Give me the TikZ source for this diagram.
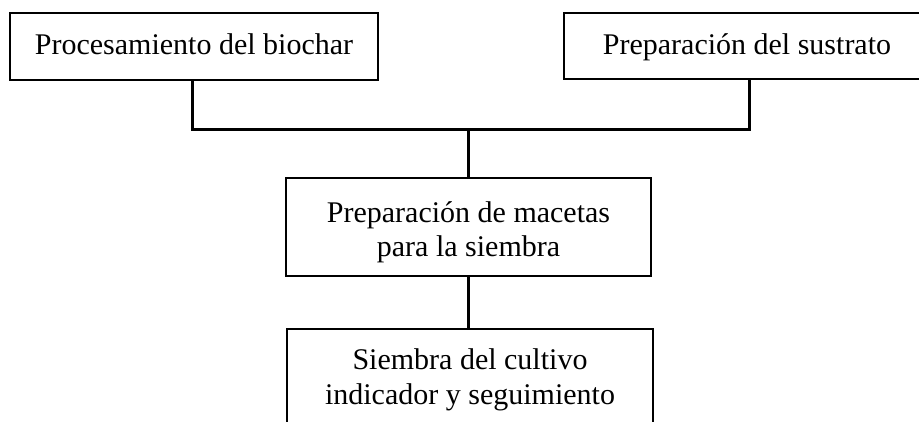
\documentclass[tikz,border=0pt]{standalone}
\usepackage{fontspec}
\setmainfont{Liberation Serif}
\begin{document}
\begin{tikzpicture}[x=1pt,y=-1pt,
  stepbox/.style={draw=black,line width=2pt,inner sep=0pt,align=center,
    font=\fontsize{30}{34.5}\selectfont},
  oneline/.style={text height=22pt,text depth=6pt},
  link/.style={draw=black,line width=3pt}]
\useasboundingbox (0,0) rectangle (919,421);
\node[stepbox,oneline,minimum width=368pt,minimum height=67pt] (a) at (194,46.5) {Procesamiento del biochar};
\node[stepbox,oneline,minimum width=366pt,minimum height=66pt] (b) at (747,46) {Preparación del sustrato};
\node[stepbox,minimum width=365pt,minimum height=98pt] (c) at (468.5,227) {\rule{0pt}{31pt}Preparación de macetas\\para la siembra};
\node[stepbox,minimum width=366pt,minimum height=102pt] (d) at (470,380) {Siembra del cultivo\\indicador y seguimiento};
\coordinate (j) at (468,129);
\draw[link] (a.south -| 192,0) |- (j);
\draw[link] (b.south -| 749,0) |- (j);
\draw[link] (j) -- (c.north -| j);
\draw[link] (c.south -| j) -- (d.north -| j);
\end{tikzpicture}
\end{document}
